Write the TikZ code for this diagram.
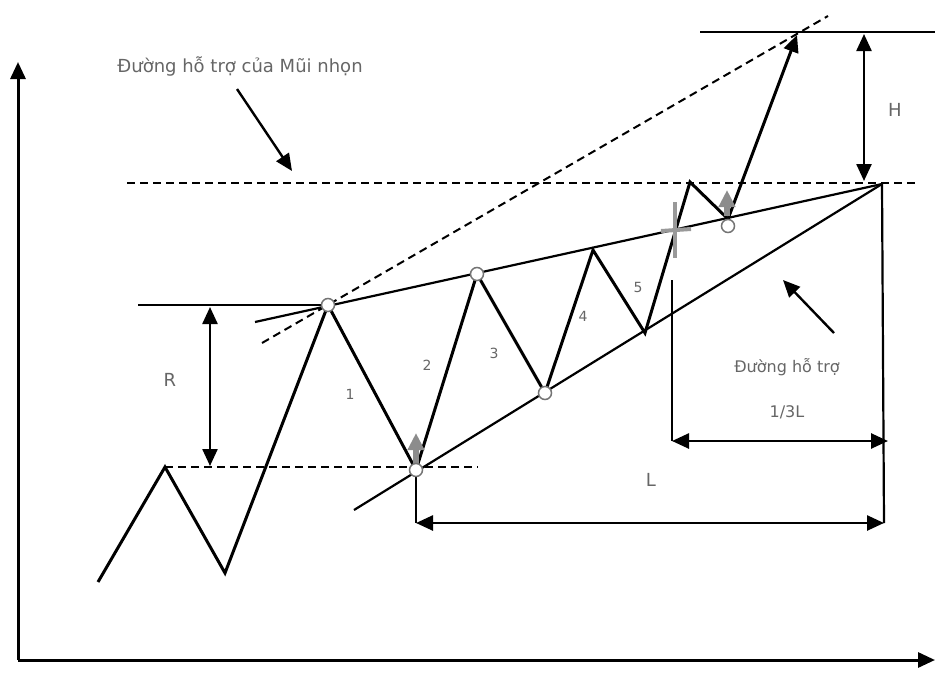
\documentclass[tikz,border=0pt]{standalone}
\usepackage{fontspec}
\setmainfont{DejaVu Sans}
\usetikzlibrary{arrows.meta}
\begin{document}
\begin{tikzpicture}[x=1pt,y=-1pt,
  ln/.style={line width=3pt,black},
  tl/.style={line width=2.2pt,black},
  dsh/.style={line width=2.2pt,dash pattern=on 8pt off 5pt},
  tip/.style={-{Triangle[length=17pt,width=15pt]}},
  dtip/.style={{Triangle[length=17pt,width=15pt]}-{Triangle[length=17pt,width=15pt]}},
  lbl/.style={text=black!60,font=\fontsize{18}{20}\selectfont},
  num/.style={text=black!60,font=\fontsize{14}{16}\selectfont},
  pt/.style={circle,draw=black!55,fill=white,line width=1.5pt,inner sep=0pt,minimum size=13pt},
  gar/.style={line width=6pt,black!45,-{Triangle[length=17pt,width=16pt]}}]
\useasboundingbox (0,0) rectangle (935,673);
% axes
\coordinate (o) at (18,660);
\coordinate (ytop) at (18,62);
\coordinate (xend) at (935,660);
\draw[line width=3pt,tip] (o) -- (ytop);
\draw[line width=3pt,tip] (o) -- (xend);
% key points
\coordinate (p0) at (98,582);
\coordinate (p1) at (165,467);
\coordinate (p2) at (225,573);
\coordinate (p3) at (328,305);
\coordinate (p4) at (416,470);
\coordinate (p5) at (477,274);
\coordinate (p6) at (545,393);
\coordinate (p7) at (593,250);
\coordinate (p8) at (645,333);
\coordinate (p9) at (690,182);
\coordinate (p10) at (728,219);
\coordinate (p11) at (797,35);
\coordinate (apex) at (882,184);
% trend lines
\coordinate (ua) at (255,322);
\coordinate (la) at (354,510);
\draw[tl] (ua) -- (apex);
\draw[tl] (la) -- (apex);
\coordinate (da) at (262,343);
\coordinate (db) at (828,16);
\draw[dsh,line width=2pt] (da) -- (db);
% horizontal guides
\coordinate (h1a) at (127,183);
\coordinate (h1b) at (915,183);
\draw[dsh] (h1a) -- (h1b);
\coordinate (topa) at (700,32);
\coordinate (topb) at (935,32);
\draw[tl] (topa) -- (topb);
\coordinate (ra) at (138,305);
\draw[tl] (ra) -- (p3);
\coordinate (d2b) at (478,467);
\draw[dsh] (p1) -- (d2b);
% zigzag
\draw[ln,line join=miter] (p0) -- (p1) -- (p2) -- (p3) -- (p4) -- (p5) -- (p6) -- (p7) -- (p8) -- (p9) -- (p10);
\draw[ln,tip] (p10) -- (p11);
% H
\coordinate (ht) at (864,34);
\coordinate (hb) at (864,181);
\draw[line width=2.4pt,dtip] (ht) -- (hb);
\node[lbl] (H) at (895,110) {H};
% R
\coordinate (rt) at (210,307);
\coordinate (rb) at (210,466);
\draw[line width=2.4pt,dtip] (rt) -- (rb);
\node[lbl] (R) at (170,380) {R};
% L and 1/3L
\coordinate (v1t) at (672,280);
\coordinate (v1b) at (672,441);
\draw[tl] (v1t) -- (v1b);
\coordinate (v2b) at (884,523);
\draw[tl] (apex) -- (v2b);
\coordinate (v3b) at (416,523);
\draw[tl] (p4) -- (v3b);
\coordinate (t1) at (672,441);
\coordinate (t2) at (888,441);
\draw[line width=2.6pt,dtip] (t1) -- (t2);
\draw[line width=2.6pt,dtip] (v3b) -- (v2b);
\node[lbl] (L) at (651,480) {L};
\node[lbl,font=\fontsize{16}{18}\selectfont] (third) at (787,412) {1/3L};
\node[lbl,font=\fontsize{16}{18}\selectfont] (sup) at (787,367) {Đường hỗ trợ};
\coordinate (sa) at (834,333);
\coordinate (sb) at (783,280);
\draw[line width=2.4pt,tip] (sa) -- (sb);
% top label
\node[lbl] (top) at (240,66) {Đường hỗ trợ của Mũi nhọn};
\coordinate (ta) at (237,89);
\coordinate (tb) at (292,171);
\draw[line width=2.4pt,tip] (ta) -- (tb);
% wave numbers
\node[num] (n1) at (350,394) {1};
\node[num] (n2) at (427,365) {2};
\node[num] (n3) at (494,353) {3};
\node[num] (n4) at (583,316) {4};
\node[num] (n5) at (638,287) {5};
% gray arrows
\coordinate (g1a) at (416,466);
\coordinate (g1b) at (416,433);
\draw[gar] (g1a) -- (g1b);
\coordinate (g2a) at (727,216);
\coordinate (g2b) at (727,190);
\draw[gar] (g2a) -- (g2b);
% gray cross
\coordinate (c1) at (675,202);
\coordinate (c2) at (675,258);
\coordinate (c3) at (661,231);
\coordinate (c4) at (691,229);
\draw[line width=4pt,black!40] (c1) -- (c2);
\draw[line width=4pt,black!40] (c3) -- (c4);
% circles
\node[pt] (q3) at (328,305) {};
\node[pt] (q5) at (477,274) {};
\node[pt] (q6) at (545,393) {};
\node[pt] (q4) at (416,470) {};
\node[pt] (q10) at (728,226) {};
\end{tikzpicture}
\end{document}
